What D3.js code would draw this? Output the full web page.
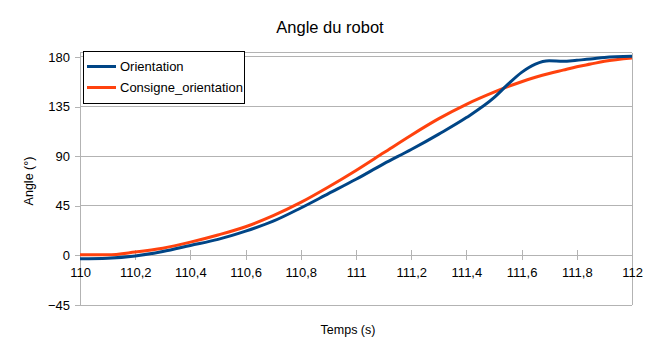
<!DOCTYPE html>
<html lang="fr">
<head>
<meta charset="UTF-8">
<title>Angle du robot</title>
<style>
  body { margin: 0; background: #fff; }
  svg { display: block; font-family: "Liberation Sans", Arial, sans-serif; }
</style>
</head>
<body>
<svg width="660" height="357"></svg>
<script src="https://d3js.org/d3.v7.min.js"></script>
<script>
  // data
  const times = [110, 110.1, 110.2, 110.3, 110.4, 110.5, 110.6, 110.7, 110.8, 110.9,
                 111, 111.1, 111.2, 111.3, 111.4, 111.5, 111.55, 111.6, 111.65, 111.7,
                 111.75, 111.8, 111.85, 111.9, 112];
  const orientation = [-3, -2.5, -0.5, 3.5, 9, 14.5, 22, 31, 43, 56,
                       69, 83, 96, 110, 125, 143, 155, 166, 173.5, 176.5,
                       176, 177, 178, 179.5, 180.5];
  const consigne = [0.5, 0.5, 3, 6.5, 12, 18.5, 26, 36, 48, 62,
                    77, 93, 109, 124, 137, 148, 153, 157.5, 161.5, 165,
                    168, 171, 173.5, 176, 179];
  const yTicks = [-45, 0, 45, 90, 135, 180];
  const xTicks = [110, 110.2, 110.4, 110.6, 110.8, 111, 111.2, 111.4, 111.6, 111.8, 112];
  const seriesNames = ["Orientation", "Consigne_orientation"];
  const colors = ["#004586", "#ff420e"];

  const svg = d3.select("svg");
  const plotL = 80, plotR = 632, plotT = 52.5, plotB = 305;
  const x = d3.scaleLinear().domain([110, 112]).range([plotL, plotR]);
  const y = d3.scaleLinear().domain([-45, 184]).range([plotB, plotT]);
  const grid = "#b3b3b3";

  // horizontal gridlines
  svg.append("g").selectAll("line").data(yTicks).enter().append("line")
    .attr("x1", plotL).attr("x2", plotR)
    .attr("y1", d => y(d)).attr("y2", d => y(d))
    .attr("stroke", grid).attr("stroke-width", 1).attr("shape-rendering", "crispEdges");

  // frame: top and right
  svg.append("line").attr("x1", plotL).attr("x2", plotR).attr("y1", plotT).attr("y2", plotT)
    .attr("stroke", grid).attr("shape-rendering", "crispEdges");
  svg.append("line").attr("x1", plotR).attr("x2", plotR).attr("y1", plotT).attr("y2", plotB)
    .attr("stroke", grid).attr("shape-rendering", "crispEdges");

  // y axis
  const yAxis = svg.append("g").attr("transform", `translate(${plotL},0)`)
    .call(d3.axisLeft(y).tickValues(yTicks).tickSize(5).tickPadding(5).tickFormat(d3.format("d")));
  yAxis.select(".domain").attr("d", `M0,${plotT}V${plotB}`);

  // x axis crossing at 0
  const fmt = d => String(+d.toFixed(1)).replace(".", ",");
  const xAxis = svg.append("g").attr("transform", `translate(0,${y(0)})`)
    .call(d3.axisBottom(x).tickValues(xTicks).tickSize(5).tickPadding(7).tickFormat(fmt));
  xAxis.selectAll(".tick line").attr("y1", -5);

  svg.selectAll(".domain, .tick line").attr("stroke", grid).attr("shape-rendering", "crispEdges");
  svg.selectAll(".tick text").attr("fill", "#000").attr("font-size", 13)
    .attr("font-family", "Liberation Sans, Arial, sans-serif");

  // lines (orange drawn first, blue on top)
  const line = d3.line().curve(d3.curveMonotoneX)
    .x((d, i) => x(times[i])).y(d => y(d));
  [consigne, orientation].forEach((s, k) => {
    svg.append("path").attr("d", line(s))
      .attr("fill", "none").attr("stroke", colors[1 - k])
      .attr("stroke-width", 3).attr("stroke-linejoin", "round");
  });

  // titles
  svg.append("text").attr("x", 330).attr("y", 33).attr("text-anchor", "middle")
    .attr("font-size", 16.5).text("Angle du robot");
  svg.append("text").attr("x", 348).attr("y", 334).attr("text-anchor", "middle")
    .attr("font-size", 12.5).text("Temps (s)");
  svg.append("text").attr("transform", "translate(33,181) rotate(-90)")
    .attr("text-anchor", "middle").attr("font-size", 12.5).text("Angle (°)");

  // legend
  const lg = svg.append("g");
  lg.append("rect").attr("x", 83.5).attr("y", 51.5).attr("width", 161).attr("height", 52)
    .attr("fill", "#fff").attr("stroke", "#000").attr("stroke-width", 1);
  seriesNames.forEach((name, i) => {
    const ly = 66.5 + i * 21;
    lg.append("line").attr("x1", 87).attr("x2", 116).attr("y1", ly).attr("y2", ly)
      .attr("stroke", colors[i]).attr("stroke-width", 3);
    lg.append("text").attr("x", 120).attr("y", ly + 4.5).attr("font-size", 13).text(name);
  });
</script>
</body>
</html>
